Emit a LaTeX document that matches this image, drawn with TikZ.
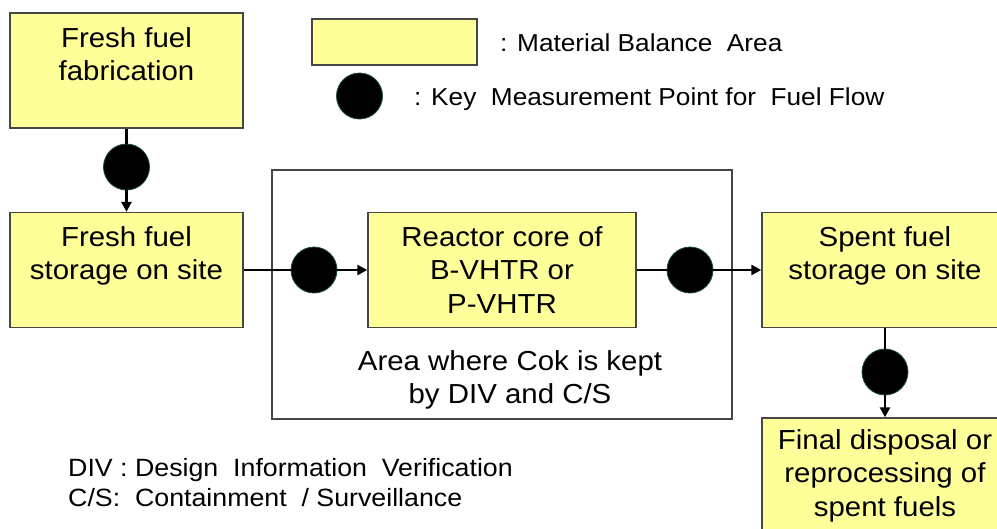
\documentclass[tikz,border=0pt]{standalone}
\usepackage{fontspec}
\setmainfont{Liberation Sans}[FakeStretch=1.07]
\usetikzlibrary{arrows.meta}
\definecolor{mbayellow}{RGB}{255,255,153}
\definecolor{boxgray}{RGB}{70,70,70}
\definecolor{kmpedge}{RGB}{25,75,65}
\tikzset{
  mba/.style={draw=boxgray, line width=1.4pt, fill=mbayellow, minimum width=233pt, minimum height=115pt, inner sep=0pt, align=center, font=\fontsize{27.5}{33.4}\selectfont},
  kmp/.style={circle, fill=black, draw=kmpedge, line width=0.8pt, minimum size=46pt, inner sep=0pt},
  link/.style={line width=2.8pt},
  flow/.style={line width=2.8pt, -{Triangle[length=10pt,width=10pt]}},
  lgd/.style={anchor=base west, inner sep=0pt, font=\fontsize{24.5}{29}\selectfont}
}
\begin{document}
\begin{tikzpicture}[x=1pt, y=-1pt]
\useasboundingbox (0,0) rectangle (997,528);
\clip (0,0) rectangle (997,528);
\node[draw=boxgray, line width=1.2pt, minimum width=460pt, minimum height=249pt, inner sep=0pt] (area) at (502,294.5) {};
\node[inner sep=0pt, align=center, font=\fontsize{27.5}{33.4}\selectfont] (cok) at (510,380) {Area where Cok is kept\\by DIV and C/S};
\node[mba] (fab) at (126.5,70.5) {Fresh fuel\\fabrication\\\phantom{X}};
\node[mba] (fst) at (126.5,270) {Fresh fuel\\storage on site\\\phantom{X}};
\node[mba, minimum width=268pt] (core) at (502,270) {Reactor core of\\B-VHTR or\\P-VHTR};
\node[mba, minimum width=246pt] (sst) at (885,270) {Spent fuel\\storage on site\\\phantom{X}};
\node[mba, minimum width=246pt] (fin) at (885,475.5) {Final disposal or\\reprocessing of\\spent fuels};
\node[kmp] (kmp1) at (126.5,167) {};
\node[kmp] (kmp2) at (314,270) {};
\node[kmp] (kmp3) at (690,270) {};
\node[kmp] (kmp4) at (885,372) {};
\foreach \a/\k/\b in {fab/kmp1/fst, fst/kmp2/core, core/kmp3/sst, sst/kmp4/fin}{
\draw[link] (\a) -- (\k);
\draw[flow] (\k) -- (\b);
}
\node[mba, minimum width=165pt, minimum height=46pt] (lgdbox) at (394.5,42) {};
\node[kmp] (lgdkmp) at (359.5,96) {};
\node[lgd] (lgdmba) at (500,51) {: Material Balance~ Area};
\node[lgd] (lgdkey) at (414,105) {: Key~ Measurement Point for~ Fuel Flow};
\node[lgd, font=\fontsize{25}{29}\selectfont] (div) at (68,476.7) {DIV : Design~ Information~ Verification};
\node[lgd, font=\fontsize{25}{29}\selectfont] (cs) at (68,506) {C/S:~ Containment~ / Surveillance};
\end{tikzpicture}
\end{document}
